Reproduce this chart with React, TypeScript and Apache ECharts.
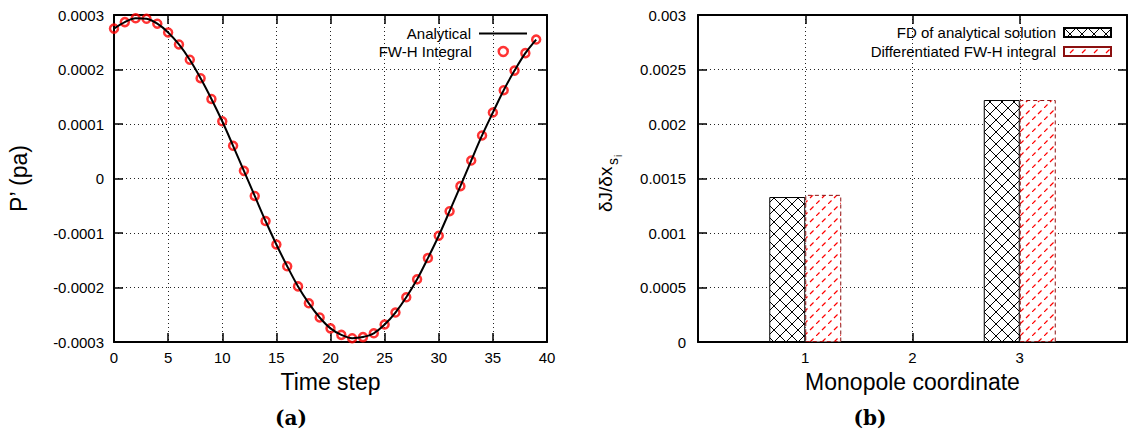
import React, { useEffect, useRef } from "react";
import * as echarts from "echarts";

// ---- Data ----
const timeSteps = [0, 1, 2, 3, 4, 5, 6, 7, 8, 9, 10, 11, 12, 13, 14, 15, 16, 17, 18, 19, 20, 21, 22, 23, 24, 25, 26, 27, 28, 29, 30, 31, 32, 33, 34, 35, 36, 37, 38, 39];
const analyticalP = [
  0.000275, 0.000287, 0.000294, 0.000293, 0.000284, 0.000268, 0.000246, 0.000218, 0.000184, 0.000146,
  0.000105, 0.00006, 0.000014, -0.000032, -0.000078, -0.000121, -0.000161, -0.000198, -0.000229, -0.000255,
  -0.000275, -0.000287, -0.000293, -0.000291, -0.000284, -0.000268, -0.000246, -0.000218, -0.000185, -0.000146,
  -0.000105, -0.00006, -0.000014, 0.000033, 0.000079, 0.000121, 0.000162, 0.000198, 0.00023, 0.000255,
];
const fwhIntegralP = [
  0.000275, 0.000287, 0.000294, 0.000293, 0.000284, 0.000268, 0.000246, 0.000218, 0.000184, 0.000146,
  0.000105, 0.00006, 0.000014, -0.000032, -0.000078, -0.000121, -0.000161, -0.000198, -0.000229, -0.000255,
  -0.000275, -0.000287, -0.000293, -0.000291, -0.000284, -0.000268, -0.000246, -0.000218, -0.000185, -0.000146,
  -0.000105, -0.00006, -0.000014, 0.000033, 0.000079, 0.000121, 0.000162, 0.000198, 0.00023, 0.000255,
];
const monopoleCoords = [1, 3];
const fdAnalytical = [0.00133, 0.00222];
const fwhDifferentiated = [0.00135, 0.00222];
const monopoleTickLabels = ["1", "2", "3"];

const FONT = "Liberation Sans";

function makeHatch(kind: "cross" | "red") {
  const c = document.createElement("canvas");
  c.width = 12;
  c.height = 12;
  const g = c.getContext("2d")!;
  g.fillStyle = "#fff";
  g.fillRect(0, 0, 12, 12);
  if (kind === "cross") {
    g.lineWidth = 1;
    g.strokeStyle = "#000";
    g.beginPath();
    g.moveTo(0, 0);
    g.lineTo(12, 12);
    g.moveTo(0, 12);
    g.lineTo(12, 0);
    g.stroke();
  } else {
    g.lineWidth = 1.2;
    g.strokeStyle = "#ff0000";
    g.setLineDash([5, 3.485]);
    g.beginPath();
    g.moveTo(0, 12);
    g.lineTo(12, 0);
    g.stroke();
  }
  return { image: c, repeat: "repeat", imageWidth: 12, imageHeight: 12 } as any;
}

const fmt = (v: number) => {
  const r = Math.round(v * 1e4) / 1e4;
  return r === 0 ? "0" : String(r);
};

export default function App() {
  const ref = useRef<HTMLDivElement>(null);
  useEffect(() => {
    if (!ref.current) return;
    const chart = echarts.init(ref.current, undefined, { renderer: "svg" });
    const axisLine = { show: true, onZero: false, lineStyle: { color: "#000", width: 2 } };
    const tick = { show: true, inside: true, length: 9, lineStyle: { color: "#000", width: 1.5 } };
    const grid = { show: true, lineStyle: { color: "#222", width: 1, type: [1, 3] } };
    const label = { fontFamily: FONT, fontSize: 15, color: "#000" };
    const nameStyle = { fontFamily: FONT, fontSize: 23, color: "#000" };
    const mirror = { axisLabel: { show: false }, splitLine: { show: false }, axisLine, axisTick: tick };
    const legendText = { fontFamily: FONT, fontSize: 15, color: "#000", padding: [0, 3, 0, 0] };
    const legendBase = { orient: "vertical", align: "right", padding: 0, selectedMode: false, textStyle: legendText };

    const cross = makeHatch("cross");
    const red = makeHatch("red");

    chart.setOption({
      animation: false,
      backgroundColor: "#fff",
      grid: [
        { left: 114, top: 15, width: 433, height: 327 },
        { left: 698, top: 15, width: 430, height: 327 },
      ],
      xAxis: [
        {
          gridIndex: 0, type: "value", min: 0, max: 40, interval: 5, position: "bottom",
          axisLine, axisTick: tick, splitLine: grid,
          axisLabel: { ...label, margin: 8 },
          name: "Time step", nameLocation: "middle", nameGap: 28, nameTextStyle: nameStyle,
        },
        { gridIndex: 0, type: "value", min: 0, max: 40, interval: 5, position: "top", ...mirror },
        {
          gridIndex: 1, type: "value", min: 0, max: 4, interval: 1, position: "bottom",
          axisLine, axisTick: tick, splitLine: grid,
          axisLabel: {
            ...label, margin: 8,
            formatter: (v: number) => (monopoleTickLabels.includes(String(v)) ? String(v) : ""),
          },
          name: "Monopole coordinate", nameLocation: "middle", nameGap: 28, nameTextStyle: nameStyle,
        },
        { gridIndex: 1, type: "value", min: 0, max: 4, interval: 1, position: "top", ...mirror },
      ],
      yAxis: [
        {
          gridIndex: 0, type: "value", min: -0.0003, max: 0.0003, interval: 0.0001, position: "left",
          axisLine, axisTick: tick, splitLine: grid,
          axisLabel: { ...label, margin: 10, formatter: fmt },
          name: "P’ (pa)", nameLocation: "middle", nameGap: 84, nameRotate: 90, nameTextStyle: nameStyle,
        },
        { gridIndex: 0, type: "value", min: -0.0003, max: 0.0003, interval: 0.0001, position: "right", ...mirror },
        {
          gridIndex: 1, type: "value", min: 0, max: 0.003, interval: 0.0005, position: "left",
          axisLine, axisTick: tick, splitLine: grid,
          axisLabel: { ...label, margin: 12, formatter: fmt },
        },
        { gridIndex: 1, type: "value", min: 0, max: 0.003, interval: 0.0005, position: "right", ...mirror },
      ],
      legend: [
        {
          ...legendBase, data: ["Analytical"], right: 602, top: 26, itemWidth: 48, itemHeight: 14,
          itemStyle: { color: "rgba(0,0,0,0)", borderColor: "rgba(0,0,0,0)", borderWidth: 0 },
          lineStyle: { color: "#000", width: 2 },
        },
        {
          ...legendBase, data: [{ name: "FW-H Integral", icon: "circle" }], right: 621, top: 44, itemWidth: 9, itemHeight: 9,
          textStyle: { ...legendText, padding: [0, 22, 0, 0] },
          itemStyle: { color: "rgba(0,0,0,0)", borderColor: "#ff0000", borderWidth: 2.5 },
        },
        {
          ...legendBase, data: [{ name: "FD of analytical solution", icon: "rect" }], right: 18, top: 25,
          itemWidth: 47, itemHeight: 9,
        },
        {
          ...legendBase, data: [{ name: "Differentiated FW-H integral", icon: "rect" }], right: 18, top: 44,
          itemWidth: 47, itemHeight: 9,
        },
      ],
      series: [
        {
          name: "Analytical", type: "line", xAxisIndex: 0, yAxisIndex: 0,
          data: timeSteps.map((t, i) => [t, analyticalP[i]]),
          showSymbol: false, symbol: "none", smooth: 0.35,
          lineStyle: { color: "#000", width: 2 }, itemStyle: { color: "#000" },
        },
        {
          name: "FW-H Integral", type: "scatter", xAxisIndex: 0, yAxisIndex: 0,
          data: timeSteps.map((t, i) => [t, fwhIntegralP[i]]),
          symbol: "circle", symbolSize: 8,
          itemStyle: { color: "rgba(0,0,0,0)", borderColor: "#ff0000", borderWidth: 2.5 },
        },
        {
          name: "FD of analytical solution", type: "bar", xAxisIndex: 2, yAxisIndex: 2,
          data: monopoleCoords.map((x, i) => [x, fdAnalytical[i]]),
          barWidth: 36, barGap: "0%",
          itemStyle: { color: cross, borderColor: "#000", borderWidth: 1 },
        },
        {
          name: "Differentiated FW-H integral", type: "bar", xAxisIndex: 2, yAxisIndex: 2,
          data: monopoleCoords.map((x, i) => [x, fwhDifferentiated[i]]),
          barWidth: 36, barGap: "0%",
          itemStyle: { color: red, borderColor: "#8b1010", borderWidth: 1, borderType: [4, 3] },
        },
      ],
      graphic: [
        {
          type: "group", x: 605, y: 212, rotation: Math.PI / 2,
          children: [
            { type: "text", x: 0, y: 0, style: { text: "δJ/δx", fontFamily: FONT, fontSize: 19, fill: "#000", align: "left", verticalAlign: "middle" } },
            { type: "text", x: 47, y: 8, style: { text: "s", fontFamily: FONT, fontSize: 14, fill: "#000", align: "left", verticalAlign: "middle" } },
            { type: "text", x: 55, y: 13, style: { text: "i", fontFamily: FONT, fontSize: 10, fill: "#000", align: "left", verticalAlign: "middle" } },
          ],
        },
        {
          type: "text", x: 291, y: 418,
          style: { text: "(a)", fontFamily: "DejaVu Serif", fontWeight: "bold", fontSize: 20, fill: "#000", align: "center", verticalAlign: "middle" },
        },
        {
          type: "text", x: 870, y: 418,
          style: { text: "(b)", fontFamily: "DejaVu Serif", fontWeight: "bold", fontSize: 20, fill: "#000", align: "center", verticalAlign: "middle" },
        },
      ],
    });
    return () => chart.dispose();
  }, []);
  return (
    <div
      ref={ref}
      style={{ position: "fixed", left: 0, top: 0, width: 1130, height: 434, background: "#fff" }}
    />
  );
}
